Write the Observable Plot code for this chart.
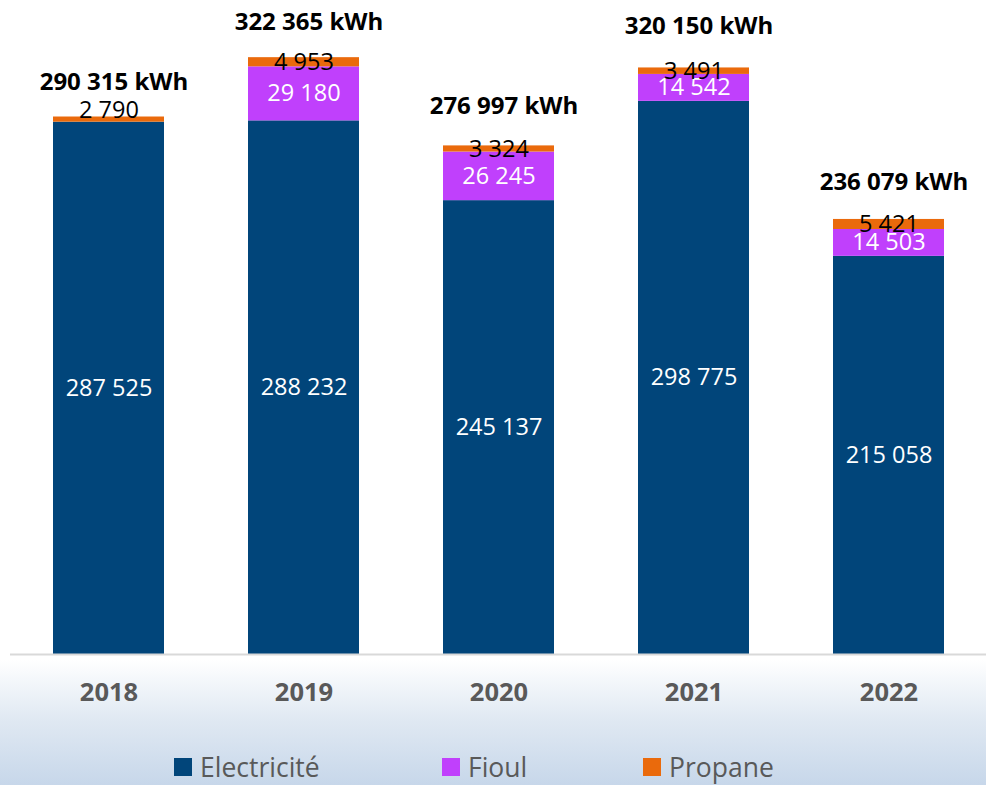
<!DOCTYPE html>
<html>
<head>
<meta charset="utf-8">
<script src="https://cdn.jsdelivr.net/npm/d3@7"></script>
<script src="https://cdn.jsdelivr.net/npm/@observablehq/plot@0.6"></script>
<style>
  body { margin: 0; background: #fff; }
  #wrap {
    position: relative; width: 986px; height: 785px; overflow: hidden;
    background: linear-gradient(to bottom, #ffffff 0px, #ffffff 660px, #f5f8fb 678px, #dfe8f2 722px, #c7d7ea 785px);
    font-family: "Open Sans", sans-serif;
  }
  #legend { position: absolute; top: 749px; left: 0; height: 36px; width: 986px; }
  .item { position: absolute; top: 0; height: 36px; display: flex; align-items: center; }
  .sw { width: 18px; height: 18px; margin-right: 8px; }
  .lab { font-size: 26.5px; color: #595959; }
</style>
</head>
<body>
<div id="wrap"><div id="chart"></div><div id="legend"></div></div>
<script>
const years = ["2018", "2019", "2020", "2021", "2022"];
const sources = ["Electricité", "Fioul", "Propane"];
const colors = ["#01457a", "#c040fc", "#ea6a0c"];
const electricite = [287525, 288232, 245137, 298775, 215058];
const fioul = [0, 29180, 26245, 14542, 14503];
const propane = [2790, 4953, 3324, 3491, 5421];
const totals = [290315, 322365, 276997, 320150, 236079];

const series = [electricite, fioul, propane];
const data = [];
sources.forEach((s, si) => years.forEach((y, yi) => data.push({year: y, source: s, value: series[si][yi], fioulZero: fioul[yi] === 0})));

const fr = d3.formatLocale({decimal: ",", thousands: " ", grouping: [3], currency: ["", ""]});
const fmt = fr.format(",");

const chart = Plot.plot({
  width: 986,
  height: 740,
  marginLeft: 10,
  marginRight: 0,
  marginTop: 6,
  marginBottom: 86,
  style: {background: "transparent", fontFamily: "'Open Sans', sans-serif", overflow: "visible"},
  x: {domain: years, paddingInner: 0.431, paddingOuter: 0.2155, label: null},
  y: {domain: [0, 350000], axis: null},
  color: {domain: sources, range: colors},
  marks: [
    Plot.barY(data, {x: "year", y: "value", fill: "source", z: "source", order: sources}),
    Plot.ruleY([0], {stroke: "#d9d9d9", strokeWidth: 2}),
    Plot.text(data, Plot.stackY({
      x: "year", y: "value", z: "source", order: sources,
      text: d => d.source === "Propane" || d.value === 0 ? null : fmt(d.value),
      fill: "white", fontSize: 23.5
    })),
    Plot.text(data, Plot.stackY({
      x: "year", y: "value", z: "source", order: sources,
      text: d => d.source === "Propane" && !d.fioulZero ? fmt(d.value) : null,
      fill: "black", fontSize: 23.5
    })),
    Plot.text(data, Plot.stackY2({
      x: "year", y: "value", z: "source", order: sources,
      text: d => d.source === "Propane" && d.fioulZero ? fmt(d.value) : null,
      fill: "black", fontSize: 23.5, dy: -7
    })),
    Plot.text(years, {
      x: d => d, y: (d, i) => totals[i],
      text: (d, i) => fmt(totals[i]) + " kWh",
      fontWeight: "bold", fontSize: 24, fill: "black", dy: -35, dx: 5
    }),
    Plot.axisX({tickSize: 0, tickPadding: 28, fontSize: 25.5, fontWeight: "bold", fill: "#595959", label: null})
  ]
});
document.getElementById("chart").appendChild(chart);

const lefts = [174, 442, 643];
const legend = document.getElementById("legend");
sources.forEach((s, i) => {
  const it = document.createElement("div");
  it.className = "item";
  it.style.left = lefts[i] + "px";
  it.innerHTML = `<div class="sw" style="background:${colors[i]}"></div><span class="lab">${s}</span>`;
  legend.appendChild(it);
});
</script>
</body>
</html>
